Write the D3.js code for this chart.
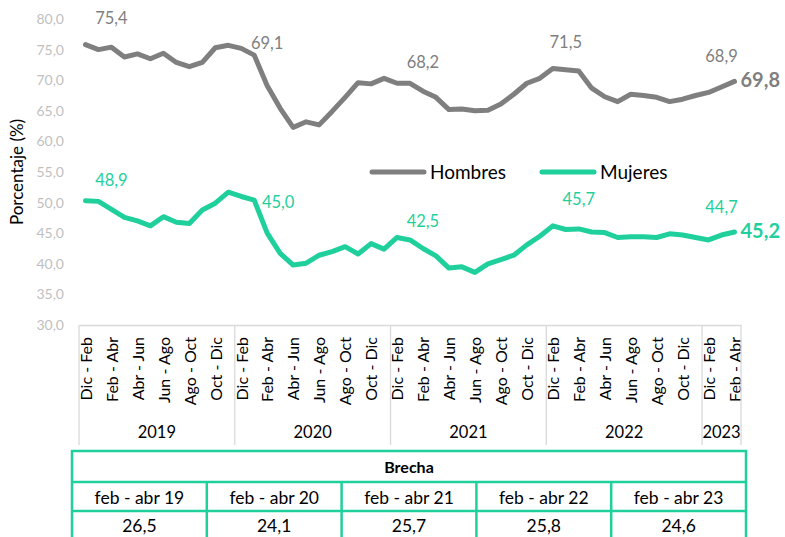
<!DOCTYPE html>
<html>
<head>
<meta charset="utf-8">
<script src="https://cdn.jsdelivr.net/npm/d3@7"></script>
<style>
  body { margin: 0; background: #fff; }
  svg { display: block; font-family: Lato, sans-serif; }
</style>
</head>
<body>
<svg width="785" height="537"></svg>
<script>
const periods = ['Dic - Feb', 'Ene - Mar', 'Feb - Abr', 'Mar - May', 'Abr - Jun', 'May - Jul',
                 'Jun - Ago', 'Jul - Sep', 'Ago - Oct', 'Sep - Nov', 'Oct - Dic', 'Nov - Ene'];
const years = ['2019', '2020', '2021', '2022', '2023'];
const periodsPerYear = [12, 12, 12, 12, 3];

const hombres = [75.8, 75.0, 75.4, 73.8, 74.3, 73.5, 74.4, 72.9, 72.2, 72.9, 75.3, 75.7,
                 75.2, 74.1, 69.1, 65.4, 62.3, 63.2, 62.7, 64.9, 67.2, 69.6, 69.4, 70.3,
                 69.5, 69.5, 68.2, 67.2, 65.2, 65.3, 65.0, 65.1, 66.1, 67.7, 69.5, 70.3,
                 71.9, 71.7, 71.5, 68.7, 67.3, 66.5, 67.7, 67.5, 67.2, 66.5, 66.9, 67.5,
                 68.0, 68.9, 69.8];
const mujeres = [50.3, 50.2, 48.9, 47.6, 47.0, 46.2, 47.7, 46.8, 46.6, 48.8, 49.9, 51.7,
                 51.0, 50.4, 45.0, 41.7, 39.8, 40.1, 41.4, 42.0, 42.8, 41.6, 43.3, 42.4,
                 44.3, 43.9, 42.5, 41.3, 39.3, 39.5, 38.6, 40.0, 40.7, 41.4, 43.1, 44.5,
                 46.2, 45.6, 45.7, 45.2, 45.1, 44.3, 44.4, 44.4, 44.3, 44.9, 44.7, 44.3,
                 43.9, 44.7, 45.2];

// indices of the points that carry a value label
const labelIdx = [2, 14, 26, 38, 49];
const lastIdx = 50;

const yTicks = [30, 35, 40, 45, 50, 55, 60, 65, 70, 75, 80];

const gapPeriods = ['feb - abr 19', 'feb - abr 20', 'feb - abr 21', 'feb - abr 22', 'feb - abr 23'];
const gapValues = [26.5, 24.1, 25.7, 25.8, 24.6];

const GRAY = '#7f7f7f';
const GREEN = '#1fd09c';
const fmt = v => v.toFixed(1).replace('.', ',');

// category list, one per rolling quarter
const cats = [];
years.forEach((yr, k) => {
  for (let i = 0; i < periodsPerYear[k]; i++) cats.push({ year: yr, period: periods[i], idx: i });
});

const svg = d3.select('svg');

const x = d3.scalePoint().domain(d3.range(cats.length)).range([79, 741]).padding(0.5);
const step = x.step();
const y = d3.scaleLinear().domain([30, 80]).range([325, 19]);

// y axis labels
const yAxis = svg.append('g')
  .attr('transform', 'translate(67,0)')
  .call(d3.axisLeft(y).tickValues(yTicks).tickSize(0).tickPadding(3).tickFormat(fmt));
yAxis.select('.domain').remove();
yAxis.selectAll('text')
  .style('font-family', 'Lato, sans-serif')
  .style('font-size', '14px')
  .attr('fill', '#bfbfbf');

svg.append('text')
  .attr('transform', 'translate(23,172) rotate(-90)')
  .attr('text-anchor', 'middle')
  .style('font-size', '17px')
  .attr('fill', '#000')
  .text('Porcentaje (%)');

// x axis
const xAxis = svg.append('g')
  .attr('transform', 'translate(0,325)')
  .call(d3.axisBottom(x)
    .tickValues(d3.range(cats.length).filter(i => cats[i].idx % 2 === 0))
    .tickSize(0).tickSizeOuter(0)
    .tickFormat(i => cats[i].period));
xAxis.select('.domain').attr('stroke', '#d9d9d9').attr('stroke-width', 1.3);
xAxis.selectAll('text')
  .attr('transform', 'rotate(-90)')
  .attr('text-anchor', 'end')
  .attr('x', -12)
  .attr('y', 0)
  .attr('dy', '0.36em')
  .style('font-family', 'Lato, sans-serif')
  .style('font-size', '16px')
  .attr('fill', '#000');

// year separators and labels
let start = 0;
const bounds = [];
periodsPerYear.forEach((n, k) => {
  bounds.push({ year: years[k], x0: x(start) - step / 2, x1: x(start + n - 1) + step / 2 });
  start += n;
});
const sepX = bounds.map(b => b.x0).concat([bounds[bounds.length - 1].x1]);
svg.selectAll('.sep').data(sepX).enter().append('line')
  .attr('x1', d => d).attr('x2', d => d)
  .attr('y1', 325).attr('y2', 445)
  .attr('stroke', '#d9d9d9').attr('stroke-width', 1.3);
svg.selectAll('.year').data(bounds).enter().append('text')
  .attr('x', d => (d.x0 + d.x1) / 2)
  .attr('y', 438)
  .attr('text-anchor', 'middle')
  .style('font-size', '16.5px')
  .attr('fill', '#000')
  .text(d => d.year);

// lines
const line = d3.line().x((d, i) => x(i)).y(d => y(d));
[[hombres, GRAY], [mujeres, GREEN]].forEach(([s, c]) => {
  svg.append('path')
    .datum(s)
    .attr('d', line)
    .attr('fill', 'none')
    .attr('stroke', c)
    .attr('stroke-width', 5)
    .attr('stroke-linejoin', 'round')
    .attr('stroke-linecap', 'round');
});

// value labels (nudged as in the source chart)
const nudgeH = { 2: [0, -23], 14: [0, -37], 26: [0, -23], 38: [-13, -23], 49: [0, -25] };
const nudgeM = { 2: [0, -23], 14: [11, -25], 26: [0, -22], 38: [0, -24], 49: [0, -22] };
[[hombres, GRAY, nudgeH], [mujeres, GREEN, nudgeM]].forEach(([s, c, nd]) => {
  svg.selectAll(null).data(labelIdx).enter().append('text')
    .attr('x', i => x(i) + nd[i][0])
    .attr('y', i => y(s[i]) + nd[i][1])
    .attr('text-anchor', 'middle')
    .style('font-size', '16.5px')
    .attr('fill', c)
    .text(i => fmt(s[i]));
  svg.append('text')
    .attr('x', x(lastIdx) + 6)
    .attr('y', y(s[lastIdx]) + 6)
    .style('font-size', '20px')
    .style('font-weight', 'bold')
    .attr('fill', c)
    .text(fmt(s[lastIdx]));
});

// legend
const legend = [{ name: 'Hombres', color: GRAY, x: 372 }, { name: 'Mujeres', color: GREEN, x: 542 }];
const lg = svg.selectAll('.lg').data(legend).enter().append('g')
  .attr('transform', d => `translate(${d.x},172)`);
lg.append('line')
  .attr('x1', 0).attr('x2', 52)
  .attr('stroke', d => d.color).attr('stroke-width', 5).attr('stroke-linecap', 'round');
lg.append('text')
  .attr('x', 58).attr('y', 6.5)
  .style('font-size', '19px')
  .attr('fill', '#000')
  .text(d => d.name);

// gap table
const tx = d3.scaleBand().domain(gapPeriods).range([72, 746]);
const rowY = [451, 482, 511, 560];
const table = svg.append('g');
table.append('rect')
  .attr('x', 72).attr('y', rowY[0])
  .attr('width', 674).attr('height', rowY[3] - rowY[0])
  .attr('fill', 'none').attr('stroke', GREEN).attr('stroke-width', 2.5);
[rowY[1], rowY[2]].forEach(yy => {
  table.append('line').attr('x1', 72).attr('x2', 746).attr('y1', yy).attr('y2', yy)
    .attr('stroke', GREEN).attr('stroke-width', 2.5);
});
table.selectAll('.col').data(gapPeriods.slice(1)).enter().append('line')
  .attr('x1', d => tx(d)).attr('x2', d => tx(d))
  .attr('y1', rowY[1]).attr('y2', rowY[3])
  .attr('stroke', GREEN).attr('stroke-width', 2.5);
table.append('text')
  .attr('x', 409).attr('y', 473)
  .attr('text-anchor', 'middle')
  .style('font-size', '16px').style('font-weight', 'bold')
  .attr('fill', '#000')
  .text('Brecha');
table.selectAll('.gp').data(gapPeriods).enter().append('text')
  .attr('x', d => tx(d) + tx.bandwidth() / 2).attr('y', 504)
  .attr('text-anchor', 'middle')
  .style('font-size', '17.5px')
  .attr('fill', '#000')
  .text(d => d);
table.selectAll('.gv').data(gapValues).enter().append('text')
  .attr('x', (d, i) => tx(gapPeriods[i]) + tx.bandwidth() / 2).attr('y', 532)
  .attr('text-anchor', 'middle')
  .style('font-size', '17.5px')
  .attr('fill', '#000')
  .text(d => fmt(d));
</script>
</body>
</html>
